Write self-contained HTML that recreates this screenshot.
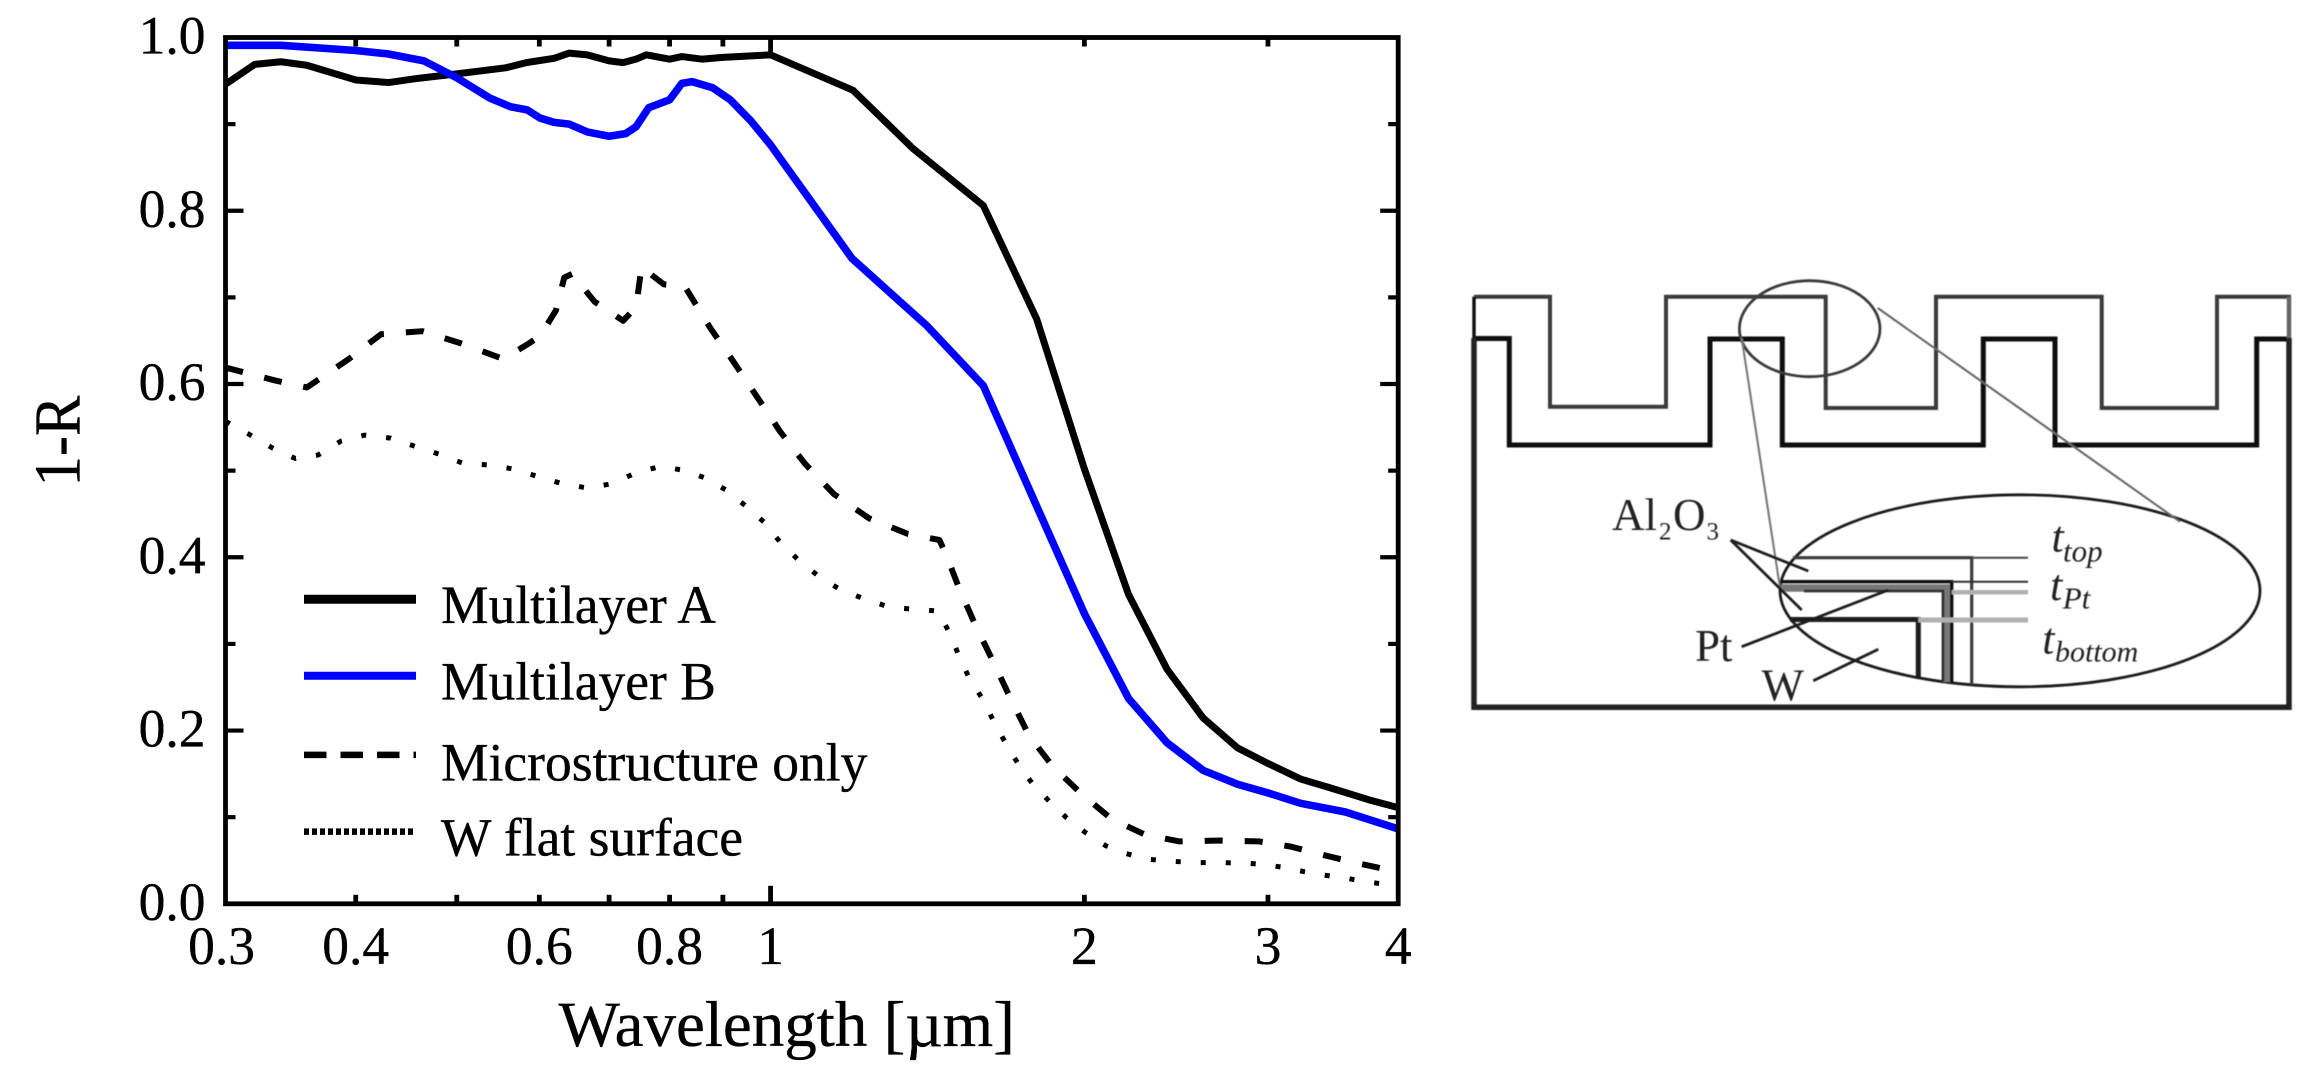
<!DOCTYPE html>
<html lang="en">
<head>
<meta charset="utf-8">
<title>1-R versus wavelength with multilayer diagram</title>
<style>
html,body{margin:0;padding:0;background:#fff;}
svg{display:block;}
text{font-family:"Liberation Serif","Times New Roman",serif;fill:#000;}
#chart text{stroke:#000;stroke-width:0.35px;}
.dtext text{fill:#222;}
</style>
</head>
<body>
<svg id="figure" xmlns="http://www.w3.org/2000/svg" width="2318" height="1087" viewBox="0 0 2318 1087">
  <defs>
    <filter id="soft" x="-5%" y="-5%" width="110%" height="110%"><feGaussianBlur stdDeviation="0.6"/></filter>
  </defs>
  <rect x="0" y="0" width="2318" height="1087" fill="#fff"/>
  <g id="chart"></g>

  <g id="diagram" filter="url(#soft)" fill="none">
    <path d="M1474 296.7H1550V406.7H1666V296.7H1825.7V408H1936V296.7H2101.7V408H2217V296.7H2289V338" stroke="#3a3a3a" stroke-width="4"/>
    <path d="M1474 338.5H1509.3V445H1710V339H1782.3V445H1983.3V339H2055V445H2256.7V339H2289" stroke="#111" stroke-width="5"/>
    <path d="M1474 338V707.3H2289V338" stroke="#222" stroke-width="5.5"/>
    <path d="M1474 296.7V338" stroke="#111" stroke-width="3.4"/>
    <path d="M2289 296.7V338" stroke="#666" stroke-width="4.5"/>
    <ellipse cx="1809.7" cy="328.7" rx="70.3" ry="48" stroke="#3a3a3a" stroke-width="2.8"/>
    <ellipse cx="2020" cy="590.8" rx="240" ry="96" stroke="#1a1a1a" stroke-width="2.8"/>
    <path d="M1741.7 338L1780 588" stroke="#777" stroke-width="2.1"/>
    <path d="M1877.7 308L2180 521.7" stroke="#666" stroke-width="2.1"/>

    <path d="M1793 557.7H1971.7V685" stroke="#3a3a3a" stroke-width="3.2"/>
    <path d="M1971.7 557.7H2028" stroke="#444" stroke-width="2"/>
    <path d="M1782 588H1947V682" stroke="#777" stroke-width="7.5"/>
    <path d="M1781.7 581.7H1951.7V682" stroke="#111" stroke-width="3.4"/>
    <path d="M1804 591H1943V681" stroke="#333" stroke-width="2.8"/>
    <path d="M1951.7 581.7H2028" stroke="#333" stroke-width="2"/>
    <path d="M1951.7 592.3H2028" stroke="#b0b0b0" stroke-width="4.5"/>
    <path d="M1790 619.5H1918.3V678" stroke="#1a1a1a" stroke-width="5"/>
    <path d="M1918.3 620H2028" stroke="#b0b0b0" stroke-width="5"/>

    <path d="M1730.7 540L1808.3 571" stroke="#1a1a1a" stroke-width="2.8"/>
    <path d="M1730.7 540L1801.7 610" stroke="#1a1a1a" stroke-width="2.8"/>
    <path d="M1741.7 646.7L1888.3 590" stroke="#1a1a1a" stroke-width="2.8"/>
    <path d="M1813.3 680.7L1878.3 649.3" stroke="#1a1a1a" stroke-width="2.8"/>

    <g class="dtext" stroke="none">
      <text x="1612" y="530" font-size="45">Al</text>
      <text x="1659" y="539.5" font-size="25">2</text>
      <text x="1673" y="530" font-size="45">O</text>
      <text x="1706.5" y="539.5" font-size="25">3</text>
      <text x="1695" y="661" font-size="45">Pt</text>
      <text x="1761.5" y="700.7" font-size="45">W</text>
      <text x="2051.5" y="551.7" font-size="44" font-style="italic">t</text>
      <text x="2063" y="561.7" font-size="31" font-style="italic">top</text>
      <text x="2050" y="600" font-size="44" font-style="italic">t</text>
      <text x="2062.7" y="608.3" font-size="31" font-style="italic">Pt</text>
      <text x="2042.3" y="653.3" font-size="44" font-style="italic">t</text>
      <text x="2055" y="661.7" font-size="30" font-style="italic">bottom</text>
    </g>
  </g>
</svg>

<script>
/* ---------- chart data ---------- */
const multilayerAWavelengths = [0.3,0.32,0.339,0.359,0.38,0.4,0.43,0.46,0.5,0.557,0.583,0.62,0.641,0.667,0.7,0.722,0.743,0.76,0.8,0.822,0.86,0.9,1,1.2,1.369,1.6,1.8,2,2.205,2.4,2.6,2.805,3,3.225,3.44,3.75,4];
const multilayerAValues = [0.946,0.969,0.972,0.968,0.959,0.951,0.948,0.953,0.958,0.965,0.971,0.976,0.982,0.98,0.973,0.971,0.975,0.98,0.975,0.978,0.975,0.977,0.98,0.939,0.872,0.806,0.675,0.502,0.357,0.271,0.2145,0.18,0.162,0.144,0.134,0.12,0.111];

const multilayerBWavelengths = [0.3,0.339,0.4,0.43,0.465,0.5,0.538,0.563,0.584,0.601,0.62,0.641,0.667,0.7,0.726,0.743,0.764,0.8,0.822,0.841,0.88,0.915,0.957,1,1.197,1.413,1.6,1.8,2,2.205,2.4,2.6,2.805,3,3.225,3.56,4];
const multilayerBValues = [0.991,0.991,0.985,0.981,0.973,0.9535,0.93,0.92,0.9165,0.907,0.902,0.9,0.891,0.886,0.889,0.897,0.919,0.928,0.947,0.949,0.942,0.928,0.904,0.876,0.745,0.667,0.598,0.459,0.335,0.237,0.186,0.154,0.138,0.128,0.116,0.106,0.0865];

const microstructureWavelengths = [0.3,0.335,0.359,0.393,0.423,0.4635,0.503,0.554,0.584,0.601,0.6225,0.634,0.645,0.678,0.722,0.743,0.752,0.79,0.827,0.875,0.921,0.9695,1,1.02,1.079,1.15,1.243,1.354,1.452,1.475,1.515,1.573,1.633,1.696,1.77,1.867,1.991,2.123,2.285,2.467,2.702,2.943,3.156,3.4,3.65,4];
const microstructureValues = [0.619,0.604,0.596,0.628,0.6575,0.661,0.6475,0.629,0.6455,0.6555,0.685,0.723,0.727,0.695,0.673,0.689,0.735,0.715,0.713,0.665,0.626,0.586,0.562,0.546,0.508,0.473,0.445,0.427,0.42,0.402,0.3655,0.321,0.281,0.239,0.194,0.158,0.126,0.098,0.08,0.072,0.073,0.072,0.066,0.056,0.047,0.037];

const flatSurfaceWavelengths = [0.3,0.316,0.333,0.35,0.368,0.387,0.408,0.432,0.456,0.481,0.507,0.537,0.566,0.599,0.631,0.667,0.705,0.744,0.785,0.828,0.868,0.908,0.947,0.987,1.022,1.063,1.107,1.165,1.23,1.3,1.373,1.447,1.486,1.515,1.55,1.6,1.637,1.683,1.733,1.785,1.852,1.924,2.006,2.097,2.193,2.301,2.428,2.561,2.708,2.857,2.991,3.123,3.253,3.401,3.55,3.7,3.857];
const flatSurfaceValues = [0.557,0.542,0.526,0.514,0.518,0.534,0.541,0.5375,0.528,0.519,0.5085,0.5065,0.502,0.493,0.485,0.48,0.485,0.498,0.505,0.5,0.491,0.477,0.459,0.44,0.417,0.397,0.38,0.363,0.352,0.3425,0.34,0.338,0.312,0.287,0.261,0.235,0.2105,0.184,0.159,0.138,0.118,0.099,0.082,0.067,0.058,0.0515,0.049,0.0475,0.0475,0.047,0.045,0.0415,0.037,0.033,0.03,0.026,0.023];

const xTickValues = [0.4,0.5,0.6,0.7,0.8,0.9,1,2,3];
const xMajorTickValues = [1];
const xLabelValues = [0.3,0.4,0.6,0.8,1,2,3,4];
const xLabelTexts = ["0.3","0.4","0.6","0.8","1","2","3","4"];
const yTickValues = [0.1,0.2,0.3,0.4,0.5,0.6,0.7,0.8,0.9];
const yMajorTickValues = [0.2,0.4,0.6,0.8];
const yLabelValues = [0,0.2,0.4,0.6,0.8,1];
const yLabelTexts = ["0.0","0.2","0.4","0.6","0.8","1.0"];

/* ---------- axis functions ---------- */
const SVG_NS = "http://www.w3.org/2000/svg";
const plotLeft = 225.5, plotRight = 1398.2, plotTop = 37.5, plotBottom = 903.8;
const xMin = 0.3, xMax = 4, yMin = 0, yMax = 1;
function xScale(v){
  return plotLeft + (Math.log10(v) - Math.log10(xMin)) / (Math.log10(xMax) - Math.log10(xMin)) * (plotRight - plotLeft);
}
function yScale(v){
  return plotBottom - (v - yMin) / (yMax - yMin) * (plotBottom - plotTop);
}
const chart = document.getElementById("chart");
function makeLine(x1, y1, x2, y2, width, color, dash){
  const el = document.createElementNS(SVG_NS, "line");
  el.setAttribute("x1", x1);
  el.setAttribute("y1", y1);
  el.setAttribute("x2", x2);
  el.setAttribute("y2", y2);
  el.setAttribute("stroke", color);
  el.setAttribute("stroke-width", width);
  if (dash) el.setAttribute("stroke-dasharray", dash);
  chart.appendChild(el);
  return el;
}
function makeText(str, x, y, size, anchor){
  const el = document.createElementNS(SVG_NS, "text");
  el.setAttribute("x", x);
  el.setAttribute("y", y);
  el.setAttribute("font-size", size);
  el.setAttribute("text-anchor", anchor);
  el.textContent = str;
  chart.appendChild(el);
  return el;
}
function makeSeries(xs, ys, width, color, dash){
  const el = document.createElementNS(SVG_NS, "polyline");
  el.setAttribute("points", xs.map((x, i) => xScale(x).toFixed(2) + "," + yScale(ys[i]).toFixed(2)).join(" "));
  el.setAttribute("fill", "none");
  el.setAttribute("stroke", color);
  el.setAttribute("stroke-width", width);
  el.setAttribute("stroke-linejoin", "round");
  if (dash) el.setAttribute("stroke-dasharray", dash);
  chart.appendChild(el);
  return el;
}

/* ---------- series ---------- */
const lineA = makeSeries(multilayerAWavelengths, multilayerAValues, 7, "#000000");


const lineB = makeSeries(multilayerBWavelengths, multilayerBValues, 7.6, "#0000ff");


const lineMicro = makeSeries(microstructureWavelengths, microstructureValues, 6, "#000000", "18 22");


const lineFlat = makeSeries(flatSurfaceWavelengths, flatSurfaceValues, 5, "#000000", "5 20");



/* ---------- frame ---------- */
const frame = document.createElementNS(SVG_NS, "rect");
frame.setAttribute("x", plotLeft);
frame.setAttribute("y", plotTop);
frame.setAttribute("width", plotRight - plotLeft);
frame.setAttribute("height", plotBottom - plotTop);
frame.setAttribute("fill", "none");
frame.setAttribute("stroke", "#000");
frame.setAttribute("stroke-width", "4.8");


chart.appendChild(frame);

/* ---------- ticks ---------- */
xTickValues.forEach(v => {
  const len = xMajorTickValues.includes(v) ? 18 : 9;
  const bottom = makeLine(xScale(v), plotBottom, xScale(v), plotBottom - len, 4.8, "#000");
  
  
  const top = makeLine(xScale(v), plotTop, xScale(v), plotTop + len, 4.8, "#000");
  
  
});
yTickValues.forEach(v => {
  const len = yMajorTickValues.includes(v) ? 18 : 10;
  const left = makeLine(plotLeft, yScale(v), plotLeft + len, yScale(v), 4.2, "#000");
  
  
  const right = makeLine(plotRight, yScale(v), plotRight - len, yScale(v), 4.2, "#000");
  
  
});

/* ---------- tick labels ---------- */
xLabelValues.forEach((v, i) => {
  const shift = v === 0.3 ? -4 : 0;
  const t = makeText(xLabelTexts[i], xScale(v) + shift, 963.8, 53.5, "middle");
  
  
});
yLabelValues.forEach((v, i) => {
  const t = makeText(yLabelTexts[i], 205.5, yScale(v) + 16, 53.5, "end");
  
  
});

/* ---------- axis titles ---------- */
const xTitle = makeText("Wavelength [\u00b5m]", 558.5, 1045.8, 65, "start");


const yTitle = makeText("1-R", 0, 0, 66, "middle");
yTitle.setAttribute("transform", "translate(79.5,441) rotate(-90)");
yTitle.setAttribute("textLength", "91");
yTitle.setAttribute("lengthAdjust", "spacingAndGlyphs");



/* ---------- legend ---------- */
const legendLabels = ["Multilayer A","Multilayer B","Microstructure only","W flat surface"];
const legendColors = ["#000000","#0000ff","#000000","#000000"];
const legendWidths = [9,8,6.5,6.5];
const legendDashes = ["","","22.5 14","5 3"];
const legendLineY = [599.3,675.7,754.9,831.6];
const legendTextY = [623,699.7,780.7,855.7];
legendLabels.forEach((label, i) => {
  const sw = makeLine(304, legendLineY[i], 416, legendLineY[i], legendWidths[i], legendColors[i], legendDashes[i]);
  
  
  const t = makeText(label, 441, legendTextY[i], 53.5, "start");
  
  
});
</script>
</body>
</html>
